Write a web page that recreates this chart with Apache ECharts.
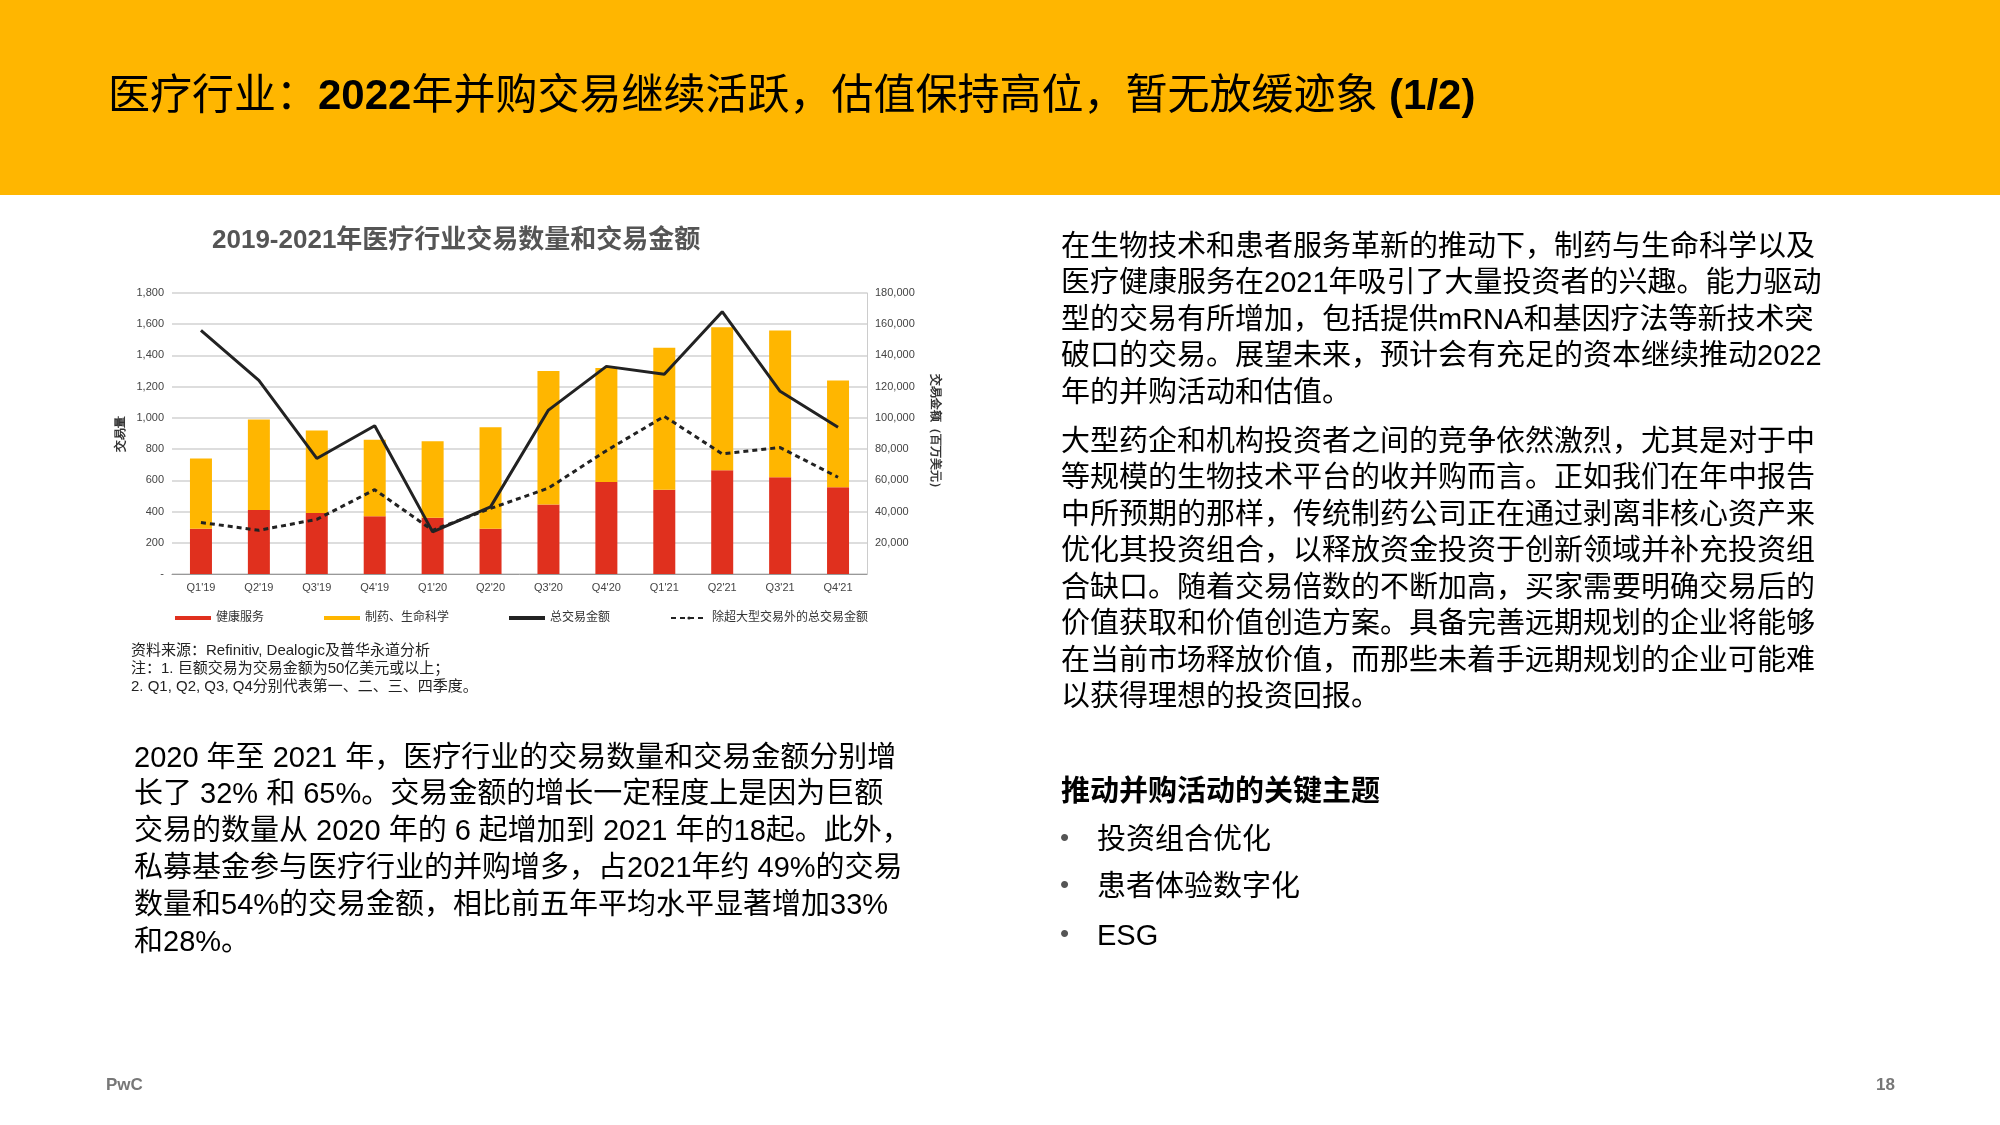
<!DOCTYPE html>
<html><head><meta charset="utf-8">
<script src="https://cdn.jsdelivr.net/npm/echarts@6/dist/echarts.min.js"></script>
<style>html,body{margin:0;padding:0;background:#fff}#c{width:2000px;height:1125px}</style>
</head><body><div id="c"></div>
<script>
const categories = ["Q1'19","Q2'19","Q3'19","Q4'19","Q1'20","Q2'20","Q3'20","Q4'20","Q1'21","Q2'21","Q3'21","Q4'21"];
const healthServices = [290,410,390,370,360,290,445,590,540,665,620,555];
const pharmaLife = [450,580,530,490,490,650,855,730,910,915,940,685];
const totalValue = [156000,124000,74000,95000,27000,43000,105000,133000,128000,168000,117000,94000];
const exMegaValue = [33000,28000,35000,54000,28000,42000,55000,79000,101000,77000,81000,62000];
const leftTicks = {min:0,max:1800,interval:200};
const rightTicks = {min:0,max:180000,interval:20000};

const F = '"Liberation Sans","Noto Sans CJK SC",sans-serif';
const rightLines1 = ["在生物技术和患者服务革新的推动下，制药与生命科学以及","医疗健康服务在2021年吸引了大量投资者的兴趣。能力驱动","型的交易有所增加，包括提供mRNA和基因疗法等新技术突","破口的交易。展望未来，预计会有充足的资本继续推动2022","年的并购活动和估值。"];
const rightLines2 = ["大型药企和机构投资者之间的竞争依然激烈，尤其是对于中","等规模的生物技术平台的收并购而言。正如我们在年中报告","中所预期的那样，传统制药公司正在通过剥离非核心资产来","优化其投资组合，以释放资金投资于创新领域并补充投资组","合缺口。随着交易倍数的不断加高，买家需要明确交易后的","价值获取和价值创造方案。具备完善远期规划的企业将能够","在当前市场释放价值,而那些未着手远期规划的企业可能难".replace(',', '，'),"以获得理想的投资回报。"];
const leftLines = ["2020 年至 2021 年，医疗行业的交易数量和交易金额分别增","长了 32% 和 65%。交易金额的增长一定程度上是因为巨额","交易的数量从 2020 年的 6 起增加到 2021 年的18起。此外，","私募基金参与医疗行业的并购增多，占2021年约 49%的交易","数量和54%的交易金额，相比前五年平均水平显著增加33%","和28%。"];
const bullets = ["投资组合优化","患者体验数字化","ESG"];

const g = [];
g.push({type:'rect',shape:{x:0,y:0,width:2000,height:195},style:{fill:'#FFB600'},silent:true});
g.push({type:'text',left:108,top:76,style:{text:'{n|医疗行业：}{b|2022}{n|年并购交易继续活跃，估值保持高位，暂无放缓迹象 }{b|(1/2)}',rich:{n:{fontSize:42,fontFamily:F,fill:'#000'},b:{fontSize:42,fontWeight:'bold',fontFamily:F,fill:'#000'}}}});
g.push({type:'text',left:212,top:228,style:{text:'2019-2021年医疗行业交易数量和交易金额',fontSize:26,fontWeight:'bold',fill:'#555',fontFamily:F}});
function lines(arr,x,y,step,size,color,weight){arr.forEach((t,i)=>g.push({type:'text',left:x,top:y+i*step,style:{text:t,fontSize:size,fill:color||'#000',fontFamily:F,fontWeight:weight||'normal'}}));}
lines(rightLines1,1061,233,36.5,29);
lines(rightLines2,1061,428,36.5,29);
g.push({type:'text',left:1061,top:778,style:{text:'推动并购活动的关键主题',fontSize:29,fontWeight:'bold',fill:'#000',fontFamily:F}});
bullets.forEach((t,i)=>{const y=[826,873,922][i];g.push({type:'text',left:1060,top:y,style:{text:'•',fontSize:26,fill:'#555',fontFamily:F}});g.push({type:'text',left:1097,top:y,style:{text:t,fontSize:29,fill:'#000',fontFamily:F}});});
lines(leftLines,134,744,36.8,29);
lines(["资料来源：Refinitiv, Dealogic及普华永道分析","注：1. 巨额交易为交易金额为50亿美元或以上；","2. Q1, Q2, Q3, Q4分别代表第一、二、三、四季度。"],131,643,18,15,'#222');
g.push({type:'text',left:106,top:1077,style:{text:'PwC',fontSize:17,fontWeight:'bold',fill:'#777',fontFamily:F}});
g.push({type:'text',left:1876,top:1077,style:{text:'18',fontSize:17,fontWeight:'bold',fill:'#777',fontFamily:F}});

const ax = {color:'#444',fontSize:11,fontFamily:F};
const chart = echarts.init(document.getElementById('c'));
chart.setOption({
  animation:false,
  graphic:g,
  grid:{left:172,right:1133,top:293,bottom:551},
  legend:{left:170,top:607,itemGap:60,itemWidth:36,itemHeight:4,textStyle:{fontSize:12,color:'#333',fontFamily:F},
    data:[{name:'健康服务',icon:'rect'},{name:'制药、生命科学',icon:'rect'},{name:'总交易金额',icon:'rect'},{name:'除超大型交易外的总交易金额'}]},
  xAxis:{type:'category',data:categories,axisTick:{show:false},axisLine:{lineStyle:{color:'#999'}},axisLabel:ax},
  yAxis:[
    {type:'value',...leftTicks,name:'交易量',nameLocation:'middle',nameGap:45,nameTextStyle:{fontSize:12,color:'#333',fontWeight:'bold'},
     axisLabel:{...ax,formatter:v=>v===0?'-':v.toLocaleString('en-US')},splitLine:{lineStyle:{color:'#ddd',width:2}}},
    {type:'value',...rightTicks,name:'交易金额（百万美元）',nameLocation:'middle',nameGap:62,nameRotate:-90,nameTextStyle:{fontSize:12,color:'#333',fontWeight:'bold'},
     axisLine:{show:true,lineStyle:{color:'#ccc'}},axisLabel:{...ax,formatter:v=>v===0?'':v.toLocaleString('en-US')},splitLine:{show:false}}
  ],
  series:[
    {name:'健康服务',type:'bar',stack:'n',data:healthServices,barWidth:22,itemStyle:{color:'#E0301E'}},
    {name:'制药、生命科学',type:'bar',stack:'n',data:pharmaLife,barWidth:22,itemStyle:{color:'#FFB600',borderColor:'#fff',borderWidth:0}},
    {name:'总交易金额',type:'line',yAxisIndex:1,data:totalValue,symbol:'none',lineStyle:{color:'#222',width:3},itemStyle:{color:'#222'}},
    {name:'除超大型交易外的总交易金额',type:'line',yAxisIndex:1,data:exMegaValue,symbol:'none',lineStyle:{color:'#222',width:3,type:[5,4]},itemStyle:{color:'#222'}}
  ]
});
</script></body></html>
